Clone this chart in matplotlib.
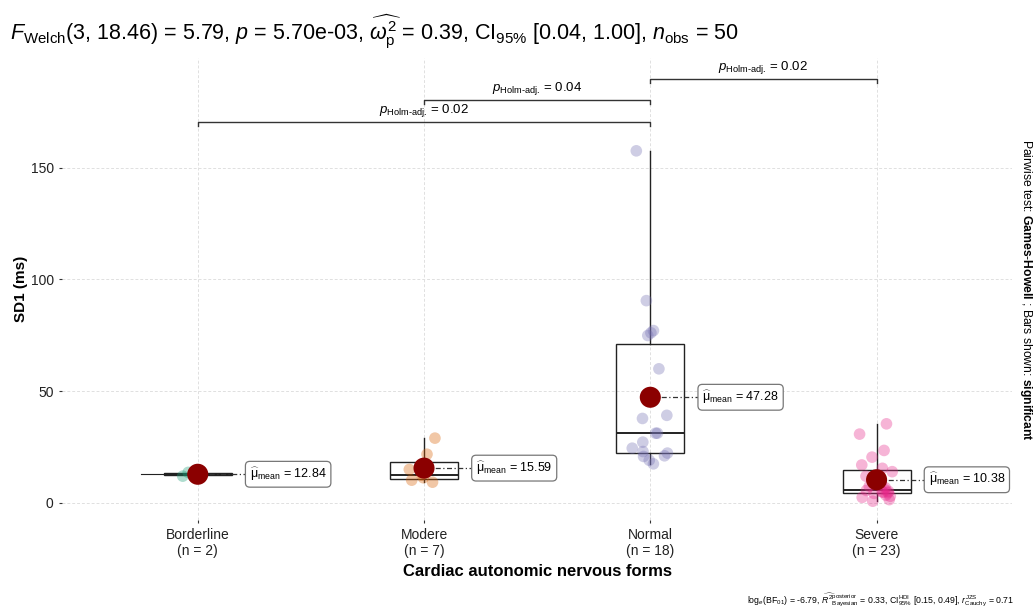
import numpy as np
import matplotlib
matplotlib.use("Agg")
import matplotlib.pyplot as plt

plt.rcParams['font.family'] = ['Liberation Sans', 'DejaVu Sans']
plt.rcParams['mathtext.fontset'] = 'custom'
plt.rcParams['mathtext.rm'] = 'Liberation Sans'
plt.rcParams['mathtext.it'] = 'Liberation Sans:italic'
plt.rcParams['mathtext.bf'] = 'Liberation Sans:bold'

# data
groups = ['Borderline', 'Modere', 'Normal', 'Severe']
counts = [2, 7, 18, 23]
borderline = [12.0, 13.68]
modere = [29.0, 21.8, 15.0, 12.5, 11.3, 10.2, 9.3]
normal = [157.5, 90.5, 76.1, 74.9, 77.1, 60.0, 39.2, 37.8, 31.2, 31.2,
          27.2, 24.5, 22.3, 23.0, 20.8, 21.1, 17.5, 19.1]
severe = [35.4, 30.8, 23.5, 20.5, 17.0, 15.5, 14.0, 12.0, 9.0, 7.5, 6.8, 6.0,
          5.6, 5.2, 5.0, 4.8, 4.6, 4.3, 3.5, 3.0, 2.5, 1.5, 0.8]
values = [borderline, modere, normal, severe]
means = ['12.84', '15.59', '47.28', '10.38']
colors = ['#1B9E77', '#D95F02', '#7570B3', '#E7298A']

# pairwise comparisons: (group a, group b, bracket height, p)
pairs = [(0, 2, 170.5, '0.02'), (1, 2, 180.3, '0.04'), (2, 3, 189.8, '0.02')]

fig = plt.figure(figsize=(10.33, 6.11), dpi=100)
ax = fig.add_axes([0.06, 0.149, 0.92, 0.756])
pos = np.arange(len(groups))

ax.boxplot(values, positions=pos, widths=0.3, whis=(0, 100), showfliers=False,
           patch_artist=True, zorder=2,
           boxprops=dict(facecolor='none', edgecolor='#222222', linewidth=1.0),
           medianprops=dict(color='#222222', linewidth=1.4),
           whiskerprops=dict(color='#222222', linewidth=1.0),
           capprops=dict(linewidth=0))

rng = np.random.default_rng(3)
for i, v in enumerate(values):
    jit = rng.uniform(-0.08, 0.08, len(v))
    ax.scatter(pos[i] + jit, v, s=70, color=colors[i], alpha=0.35,
               edgecolors='none', zorder=3)
    m = np.mean(v)
    ax.scatter(pos[i], m, s=230, color='#8B0000', zorder=5, edgecolors='none')
    ax.plot([pos[i], pos[i] + 0.22], [m, m], color='#333333', lw=0.9,
            ls=(0, (4, 2, 1, 2)), zorder=4)
    ax.text(pos[i] + 0.23, m, r'$\widehat{\mathrm{\mu}}_{\rm mean}$ = ' + means[i],
            fontsize=9, va='center', ha='left', zorder=6,
            bbox=dict(boxstyle='round,pad=0.35', fc='white', ec='#777777', lw=0.9))

# flat violin line for the two-point group
ax.plot([pos[0] - 0.25, pos[0] + 0.15], [np.mean(borderline)] * 2,
        color='#222222', lw=0.8, zorder=1)

for a, b, h, p in pairs:
    ax.plot([pos[a], pos[a], pos[b], pos[b]], [h - 1.8, h, h, h - 1.8],
            color='#333333', lw=1.0)
    ax.text((pos[a] + pos[b]) / 2, h + 1.2,
            r'$\it{p}_{\text{Holm-adj.}}$ = ' + p, fontsize=9.5,
            ha='center', va='bottom')

ax.set_xlim(-0.6, 3.6)
ax.set_ylim(-7.6, 199)
ax.set_yticks([0, 50, 100, 150])
ax.set_xticks(pos)
ax.set_xticklabels([f'{g}\n(n = {n})' for g, n in zip(groups, counts)])
ax.tick_params(axis='both', labelsize=10, colors='#333333', length=2.5,
               width=0.8, labelcolor='#222222')
ax.grid(True, color='#E0E0E0', ls=(0, (3, 2)), lw=0.7)
ax.set_axisbelow(True)
for s in ax.spines.values():
    s.set_visible(False)

ax.set_xlabel('Cardiac autonomic nervous forms', fontsize=12, fontweight='bold',
              labelpad=4)
ax.set_ylabel('SD1 (ms)', fontsize=11, fontweight='bold', labelpad=2)

fig.text(0.01, 0.948,
         r'$\it{F}_{\rm Welch}$(3, 18.46) = 5.79, $\it{p}$ = 5.70e-03, '
         r'$\widehat{\omega_{\rm p}^{2}}$ = 0.39, CI$_{95\%}$ [0.04, 1.00], '
         r'$\it{n}_{\rm obs}$ = 50',
         fontsize=15.5, ha='left', va='center')

fig.text(0.993, 0.525,
         r'Pairwise test: $\mathbf{Games}$-$\mathbf{Howell}$ ; Bars shown: $\mathbf{significant}$',
         fontsize=8.7, rotation=270, ha='center', va='center')

fig.text(0.982, 0.018,
         r'log$_{e}$(BF$_{01}$) = -6.79, $\widehat{R^{2}}^{\rm posterior}_{\rm Bayesian}$ = 0.33, '
         r'CI$^{\rm HDI}_{95\%}$ [0.15, 0.49], $\it{r}^{\rm JZS}_{\rm Cauchy}$ = 0.71',
         fontsize=6.3, ha='right', va='center')

fig.savefig('out.png', dpi=100)
